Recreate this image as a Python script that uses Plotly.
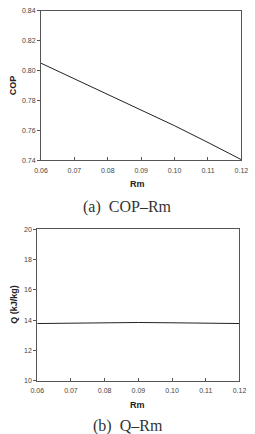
import plotly.graph_objects as go

rm = [0.06, 0.07, 0.08, 0.09, 0.10, 0.11, 0.12]
cop = [0.805, 0.7945, 0.7843, 0.7740, 0.7632, 0.7520, 0.7405]
q = [13.78, 13.82, 13.85, 13.85, 13.83, 13.80, 13.78]

x_ticks = [0.06, 0.07, 0.08, 0.09, 0.10, 0.11, 0.12]
x_tick_text = ["0.06", "0.07", "0.08", "0.09", "0.10", "0.11", "0.12"]
cop_ticks = [0.74, 0.76, 0.78, 0.80, 0.82, 0.84]
q_ticks = [10, 12, 14, 16, 18, 20]

W, H = 255, 434
def px(x): return x / W
def py(y): return 1 - y / H

fig = go.Figure()
fig.add_trace(go.Scatter(x=rm, y=cop, mode="lines", line=dict(color="#222", width=1),
                         xaxis="x", yaxis="y", showlegend=False))
fig.add_trace(go.Scatter(x=rm, y=q, mode="lines", line=dict(color="#222", width=1),
                         xaxis="x2", yaxis="y2", showlegend=False))

tickfont = dict(family="Liberation Sans, Arial", size=7, color="#444")
axis_common = dict(showline=True, linecolor="#555", linewidth=1, mirror=True,
                   showgrid=False, zeroline=False, tickfont=tickfont,
                   ticklen=3, tickcolor="#555", tickwidth=1)

fig.update_layout(
    width=W, height=H, margin=dict(l=0, r=0, t=0, b=0),
    paper_bgcolor="white", plot_bgcolor="white",
    xaxis=dict(domain=[px(36), px(248)], range=[0.06, 0.12], tickvals=x_ticks,
               ticktext=x_tick_text, ticks="inside", anchor="y",
               ticklabelstandoff=3, **axis_common),
    yaxis=dict(domain=[py(159), py(7)], range=[0.74, 0.84], tickvals=cop_ticks,
               tickformat=".2f", ticks="outside", anchor="x", **axis_common),
    xaxis2=dict(domain=[px(32), px(246)], range=[0.06, 0.12], tickvals=x_ticks,
                ticktext=x_tick_text, ticks="inside", anchor="y2",
                ticklabelstandoff=3, **axis_common),
    yaxis2=dict(domain=[py(383), py(229)], range=[10, 20], tickvals=q_ticks,
                ticks="outside", anchor="x2", **axis_common),
)

titlefont = dict(family="Liberation Sans, Arial", size=9, color="#222")
capfont = dict(family="Liberation Serif, DejaVu Serif, serif", size=16, color="#333")
anns = [
    dict(text="<b>COP</b>", x=px(6), y=py(83), textangle=-90, font=titlefont),
    dict(text="<b>Rm</b>", x=px(138), y=py(183), font=titlefont),
    dict(text="(a)  COP–Rm", x=px(128), y=py(206), font=capfont),
    dict(text="<b>Q (kJ/kg)</b>", x=px(8), y=py(305), textangle=-90, font=titlefont),
    dict(text="<b>Rm</b>", x=px(138), y=py(408), font=titlefont),
    dict(text="(b)  Q–Rm", x=px(128), y=py(429), font=capfont),
]
for a in anns:
    fig.add_annotation(xref="paper", yref="paper", showarrow=False,
                       xanchor="center", yanchor="middle", **a)

fig.write_html("out.html")
